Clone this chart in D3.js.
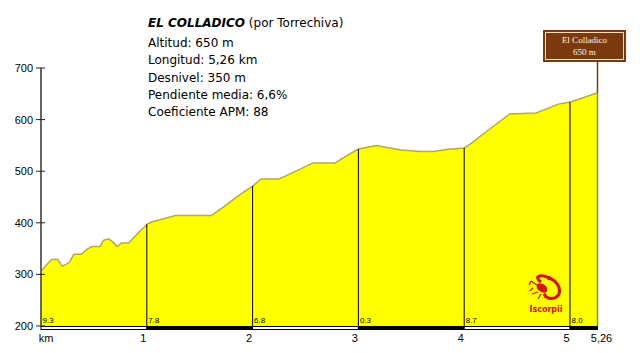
<!DOCTYPE html>
<html>
<head>
<meta charset="utf-8">
<script src="https://cdn.jsdelivr.net/npm/d3@7"></script>
<style>
  body { margin: 0; background: #fff; }
  svg { display: block; }
  .info { font-family: "DejaVu Sans", sans-serif; font-size: 12px; fill: #000; }
  .axis-lbl { font-family: "Liberation Sans", Arial, sans-serif; font-size: 11px; fill: #000; }
</style>
</head>
<body>
<svg id="chart" width="640" height="353"></svg>
<script>
// profile data (km, metres)
var dist = [0, 0.04, 0.10, 0.16, 0.20, 0.24, 0.27, 0.31, 0.38, 0.43, 0.48, 0.56, 0.59, 0.64, 0.68, 0.72, 0.76, 0.83, 0.87,
  1.00, 1.05, 1.16, 1.27, 1.61, 1.72, 1.87, 2.00, 2.08, 2.25, 2.42, 2.57, 2.78, 2.89, 3.00, 3.17, 3.27, 3.41, 3.58,
  3.71, 3.83, 4.00, 4.06, 4.21, 4.43, 4.68, 4.89, 5.00, 5.09, 5.26];
var elev = [305, 316, 329, 329, 316, 320, 324, 339, 339, 348, 354, 354, 366, 369, 363, 354, 361, 361, 370,
  397, 402, 408, 414, 414, 430, 453, 471, 485, 485, 501, 516, 516, 530, 543, 550, 546, 541, 538,
  538, 542, 545, 553, 577, 611, 613, 630, 634, 640, 652];
var kmTicks = [0, 1, 2, 3, 4, 5];
var kmLabels = ["km", "1", "2", "3", "4", "5"];
var slopes = ["9.3", "7.8", "6.8", "0.3", "8.7", "8.0"];
var yTicks = [200, 300, 400, 500, 600, 700];
var totalKm = 5.26;
var infoLines = ["Altitud: 650 m", "Longitud: 5,26 km", "Desnivel: 350 m", "Pendiente media: 6,6%", "Coeficiente APM: 88"];
var summitName = "El Colladico";
var summitAlt = "650 m";

var svg = d3.select("#chart");

var x = d3.scaleLinear().domain([0, totalKm]).range([41, 597.5]);
var y = d3.scaleLinear().domain([200, 700]).range([326, 68]);

var pts = dist.map(function (d, i) { return { km: d, m: elev[i] }; });
var elevAt = function (k) { // read the profile at a km mark
  var i = d3.bisector(function (d) { return d.km; }).left(pts, k);
  if (i <= 0) return pts[0].m;
  if (i >= pts.length) return pts[pts.length - 1].m;
  var a = pts[i - 1], b = pts[i];
  return a.m + (b.m - a.m) * (k - a.km) / (b.km - a.km);
};

// filled profile
var area = d3.area().x(function (d) { return x(d.km); }).y0(y(200)).y1(function (d) { return y(d.m); });
var line = d3.line().x(function (d) { return x(d.km); }).y(function (d) { return y(d.m); });

svg.append("path").attr("d", area(pts)).attr("fill", "#ffff00");
svg.append("path").attr("d", line(pts)).attr("fill", "none").attr("stroke", "#b0a478").attr("stroke-width", 1.5);

// km vertical lines
svg.selectAll(".kmline").data(kmTicks.slice(1)).enter().append("line")
  .attr("x1", function (d) { return x(d); }).attr("x2", function (d) { return x(d); })
  .attr("y1", y(200)).attr("y2", function (d) { return y(elevAt(d)); })
  .attr("stroke", "#000").attr("stroke-width", 1);

// right edge
svg.append("line").attr("x1", x(totalKm)).attr("x2", x(totalKm))
  .attr("y1", y(200)).attr("y2", y(elevAt(totalKm)))
  .attr("stroke", "#7a9a2a").attr("stroke-width", 1.5);

// slope labels
svg.selectAll(".slope").data(slopes).enter().append("text")
  .attr("x", function (d, i) { return x(kmTicks[i]) + 1.5; })
  .attr("y", 323)
  .attr("font-family", "Liberation Sans, Arial, sans-serif").attr("font-size", 8)
  .text(function (d) { return d; });

// baseline bar, alternating white / black
var segs = kmTicks.map(function (d, i) { return [d, i < kmTicks.length - 1 ? kmTicks[i + 1] : totalKm]; });
svg.selectAll(".seg").data(segs).enter().append("rect")
  .attr("x", function (d) { return x(d[0]); })
  .attr("y", 326.5)
  .attr("width", function (d) { return x(d[1]) - x(d[0]); })
  .attr("height", 3)
  .attr("fill", function (d, i) { return i % 2 ? "#000" : "#fff"; })
  .attr("stroke", "#000").attr("stroke-width", 1);

// y axis
svg.append("line").attr("x1", 41).attr("x2", 41).attr("y1", y(700)).attr("y2", y(200))
  .attr("stroke", "#666").attr("stroke-width", 2);
svg.selectAll(".ytick").data(yTicks).enter().append("line")
  .attr("x1", 36).attr("x2", 45)
  .attr("y1", function (d) { return y(d); }).attr("y2", function (d) { return y(d); })
  .attr("stroke", "#222").attr("stroke-width", 1);
svg.selectAll(".ylab").data(yTicks).enter().append("text")
  .attr("class", "axis-lbl")
  .attr("x", 33).attr("y", function (d) { return y(d) + 4; })
  .attr("text-anchor", "end")
  .text(function (d) { return d; });

// x labels
svg.selectAll(".xlab").data(kmLabels).enter().append("text")
  .attr("class", "axis-lbl")
  .attr("x", function (d, i) { return x(kmTicks[i]) + (i === 0 ? 5 : -3.5); })
  .attr("y", 342)
  .attr("text-anchor", "middle")
  .text(function (d) { return d; });
svg.append("text").attr("class", "axis-lbl")
  .attr("x", x(totalKm) + 4).attr("y", 342).attr("text-anchor", "middle").text("5,26");

// title block
var title = svg.append("text").attr("class", "info").attr("x", 148).attr("y", 27);
title.append("tspan").attr("font-weight", "bold").attr("font-style", "italic").text("EL COLLADICO");
title.append("tspan").text(" (por Torrechiva)");
svg.selectAll(".infoline").data(infoLines).enter().append("text")
  .attr("class", "info")
  .attr("x", 148)
  .attr("y", function (d, i) { return 47 + i * 17.3; })
  .text(function (d) { return d; });

// summit marker
var sx = x(totalKm);
svg.append("line").attr("x1", sx).attr("x2", sx).attr("y1", 62).attr("y2", y(elevAt(totalKm)))
  .attr("stroke", "#7a3a12").attr("stroke-width", 1.5);
svg.append("rect").attr("x", 543).attr("y", 30).attr("width", 83).attr("height", 32).attr("fill", "#7a3a0e");
svg.append("rect").attr("x", 545.5).attr("y", 32.5).attr("width", 78).attr("height", 27)
  .attr("fill", "none").attr("stroke", "#f4e2c8").attr("stroke-width", 1);
svg.append("text").attr("x", 584.5).attr("y", 43).attr("text-anchor", "middle")
  .attr("font-family", "Liberation Serif, serif").attr("font-size", 9).attr("fill", "#fff4e0").text(summitName);
svg.append("text").attr("x", 584.5).attr("y", 55).attr("text-anchor", "middle")
  .attr("font-family", "Liberation Serif, serif").attr("font-size", 9).attr("fill", "#fff4e0").text(summitAlt);

// logo
var logo = svg.append("g").attr("transform", "translate(547,290)");
logo.append("path").attr("d", "M-6,-8 C-14,-14 -6,-16 2,-12 C10,-9 14,-2 12,4 C9,10 0,10 -3,4")
  .attr("fill", "none").attr("stroke", "#d01818").attr("stroke-width", 3);
logo.append("ellipse").attr("cx", -5).attr("cy", -2).attr("rx", 6).attr("ry", 4).attr("fill", "#d01818")
  .attr("transform", "rotate(35,-5,-2)");
logo.append("path").attr("d", "M-10,-5 L-16,-9 M-16,-9 L-18,-5 M-9,2 L-15,4 M-6,4 L-9,9 M-2,3 L-2,8 M-14,-2 L-17,1")
  .attr("stroke", "#d01818").attr("stroke-width", 1.3).attr("fill", "none");
logo.append("circle").attr("cx", 2).attr("cy", -12).attr("r", 2).attr("fill", "#d01818");
svg.append("text").attr("x", 546).attr("y", 312).attr("text-anchor", "middle")
  .attr("font-family", "DejaVu Sans, sans-serif").attr("font-size", 8).attr("font-weight", "bold")
  .attr("fill", "#d01818").text("Iscorpii");
</script>
</body>
</html>
